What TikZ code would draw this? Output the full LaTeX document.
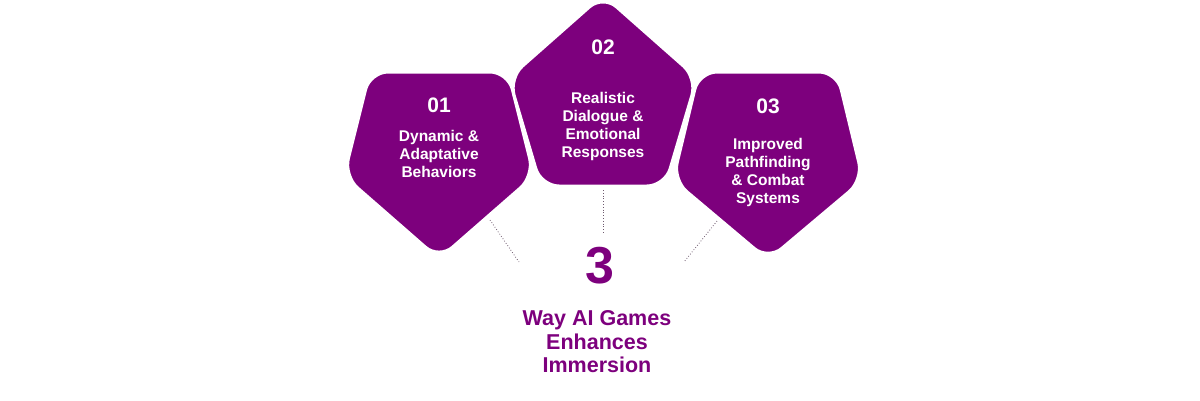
\documentclass[tikz,border=0pt]{standalone}
\usepackage{fontspec}
\setmainfont{Liberation Sans}
\definecolor{vio}{RGB}{125,0,125}
\definecolor{dotc}{RGB}{110,90,110}
\tikzset{
  pent/.style={fill=vio, draw=white, line width=3pt, rounded corners=18pt},
  numtxt/.style={text=white, font=\fontsize{21}{22}\selectfont\bfseries, inner sep=0pt},
  bodytxt/.style={text=white, font=\fontsize{15.5}{18}\selectfont\bfseries, align=center, inner sep=0pt},
  link/.style={draw=dotc, dotted, line width=0.8pt},
}
\begin{document}
\begin{tikzpicture}[x=1pt,y=-1pt]
\useasboundingbox (0,0) rectangle (1200,400);
% pentagons
\path[pent] (370,72) -- (508,72) -- (534,176) -- (439,259) -- (344,176) -- cycle;
\path[pent] (699,72) -- (837,72) -- (863,180) -- (768,260) -- (673,180) -- cycle;
\path[pent] (603,-5) -- (697,78) -- (665,186) -- (541,186) -- (509,78) -- cycle;
% texts
\node[numtxt] (n1) at (439,105) {01};
\node[bodytxt] (t1) at (439,154) {Dynamic \&\\Adaptative\\Behaviors};
\node[numtxt] (n2) at (603,47) {02};
\node[bodytxt] (t2) at (603,126) {Realistic\\Dialogue \&\\Emotional\\Responses};
\node[numtxt] (n3) at (768,106) {03};
\node[bodytxt] (t3) at (768,172) {Improved\\Pathfinding\\\& Combat\\Systems};
\node[text=vio, font=\fontsize{52}{52}\selectfont\bfseries, inner sep=0pt] (big) at (600,266) {3};
\node[text=vio, font=\fontsize{21.5}{23.5}\selectfont\bfseries, align=center, inner sep=0pt] (title) at (597,342) {Way AI Games\\Enhances\\Immersion};
% connectors
\coordinate (c1a) at (490,220);
\coordinate (c1b) at (519,262);
\coordinate (c2a) at (603,190);
\coordinate (c2b) at (603,233);
\coordinate (c3a) at (717,221);
\coordinate (c3b) at (684,262);
\draw[link] (c1a) -- (c1b);
\draw[link] (c2a) -- (c2b);
\draw[link] (c3a) -- (c3b);
\end{tikzpicture}
\end{document}
